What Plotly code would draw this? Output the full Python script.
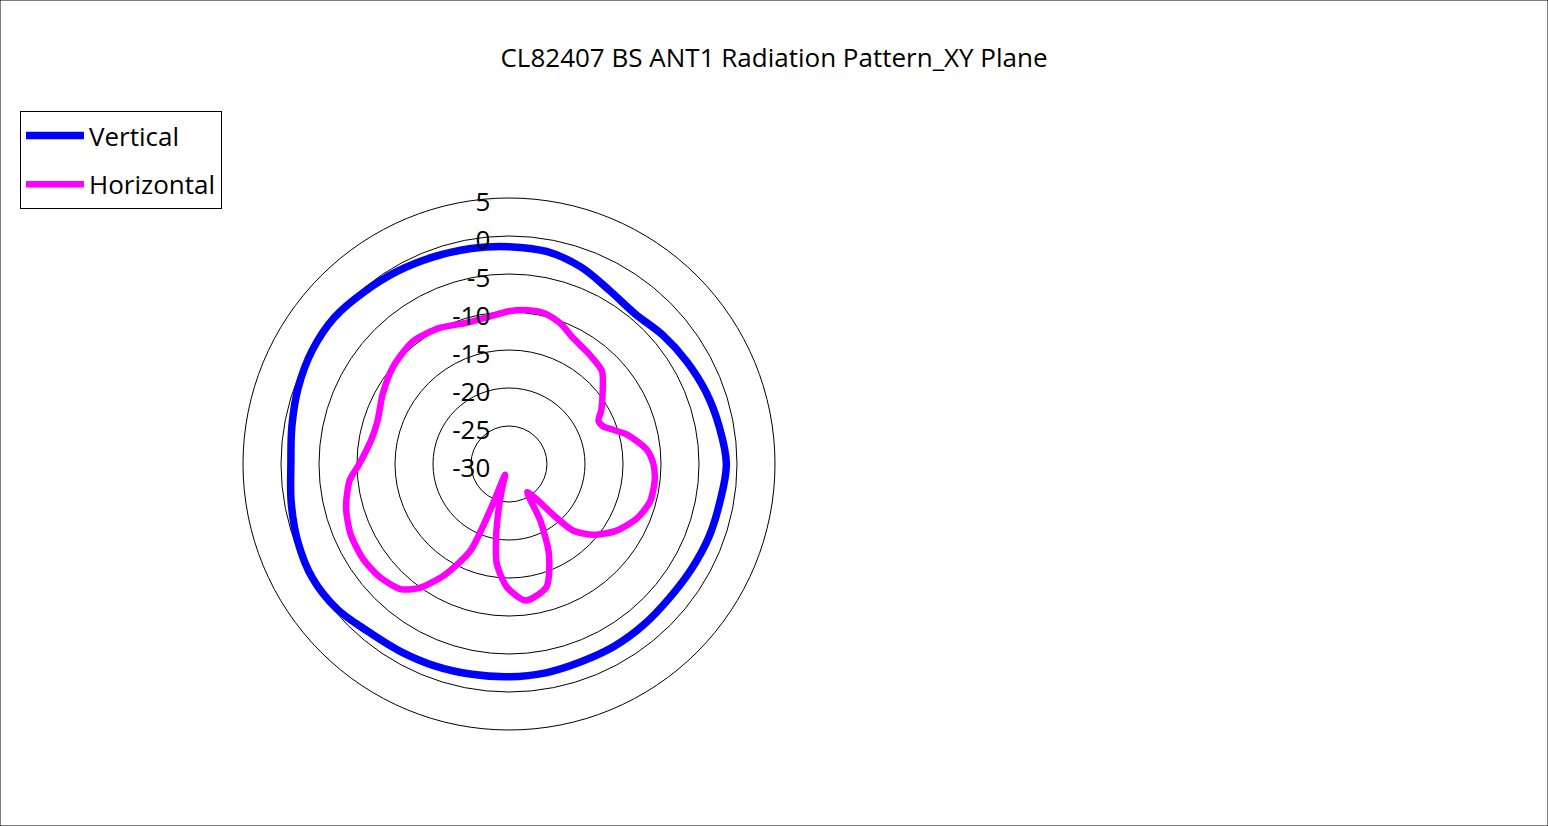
import plotly.graph_objects as go

# Vertical polarisation, sampled every 10 degrees (dB)
vert_angles = list(range(0, 361, 10))
vert_db = [-1.4, -1.6, -2.4, -3.6, -4.2, -3.6, -3.0, -2.4, -1.9, -1.4,
           -1.8, -2.0, -2.3, -2.5, -2.4, -2.3, -2.3, -2.1, -2.0, -1.9,
           -1.7, -1.5, -1.2, -0.4, -0.1, -0.4, -0.9, -1.3, -1.0, -0.5,
           -0.1, 0.0, -0.4, -0.7, -1.0, -1.2, -1.4]

# Horizontal polarisation, denser around the nulls (dB)
horiz_angles = [0, 7, 13, 20, 27, 36, 45, 54, 60, 64, 68, 72, 76, 84, 90,
                97, 105, 113, 122, 130, 136, 139, 141, 147, 151, 156, 163,
                173, 181, 187, 190, 193, 196, 200, 202, 204, 210, 216, 221,
                229, 237, 246, 255, 264, 270, 280, 288, 299, 310, 322, 333,
                343, 351, 360]
horiz_db = [-9.9, -9.6, -9.6, -10.3, -11.4, -12.1, -12.7, -14.8, -16.0,
            -16.9, -16.7, -15.5, -14.0, -11.8, -11.0, -10.7, -10.8, -11.7,
            -13.4, -15.5, -17.8, -21.1, -23.5, -25.6, -21.5, -17.1, -13.1,
            -11.9, -13.8, -16.8, -20.2, -24.0, -26.8, -28.5, -24.2, -17.5,
            -13.2, -9.8, -8.2, -7.4, -7.1, -7.2, -7.8, -8.9, -10.3, -11.6,
            -11.8, -11.0, -10.1, -9.5, -9.9, -10.6, -10.5, -9.9]

# radial ticks, written with a plain hyphen like the original
r_ticks = [-30, -25, -20, -15, -10, -5, 0, 5]
r_labels = [str(v) for v in r_ticks]

W, H = 1548, 826
FONT = "Open Sans"

fig = go.Figure()

fig.add_trace(go.Scatterpolar(
    r=vert_db, theta=vert_angles, mode="lines", name="Vertical",
    legendgroup="v",
    line=dict(color="#0000FF", width=7.5, shape="spline", smoothing=1),
))
fig.add_trace(go.Scatterpolar(
    r=horiz_db, theta=horiz_angles, mode="lines", name="Horizontal",
    legendgroup="h",
    line=dict(color="#FF00FF", width=6.5, shape="spline", smoothing=0.7),
))

# polar circle centred at (509, 464) px with a radius of 266 px
cx, cy, rad = 509, 464, 266
fig.update_layout(
    width=W, height=H,
    margin=dict(l=0, r=0, t=0, b=0),
    paper_bgcolor="white",
    font=dict(family=FONT, color="#000000"),
    title=dict(text="CL82407 BS ANT1 Radiation Pattern_XY Plane",
               x=0.5, xanchor="center", y=1 - 58 / H, yanchor="middle",
               font=dict(size=26, family=FONT, color="#000000")),
    polar=dict(
        domain=dict(x=[(cx - rad) / W, (cx + rad) / W],
                    y=[(H - cy - rad) / H, (H - cy + rad) / H]),
        bgcolor="white",
        radialaxis=dict(range=[-30, 5], tickvals=r_ticks, ticktext=r_labels,
                        angle=90, side="counterclockwise",
                        showline=False, ticks="", gridcolor="#000000",
                        gridwidth=1, tickfont=dict(size=26, family=FONT)),
        angularaxis=dict(rotation=90, direction="clockwise", showgrid=False,
                         showticklabels=False, ticks="", showline=True,
                         linecolor="#000000", linewidth=1),
    ),
    legend=dict(x=20 / W, y=1 - 111 / H, xanchor="left", yanchor="top",
                bordercolor="#000000", borderwidth=1, bgcolor="white",
                font=dict(size=26, family=FONT), tracegroupgap=12,
                itemwidth=58),
    shapes=[dict(type="rect", xref="paper", yref="paper", x0=0, y0=0,
                 x1=1, y1=1, line=dict(color="#000000", width=1))],
)

fig.write_html("out.html", config={"displayModeBar": False},
               post_script="document.body.style.margin='0';"
                           "document.body.style.overflow='hidden';")
